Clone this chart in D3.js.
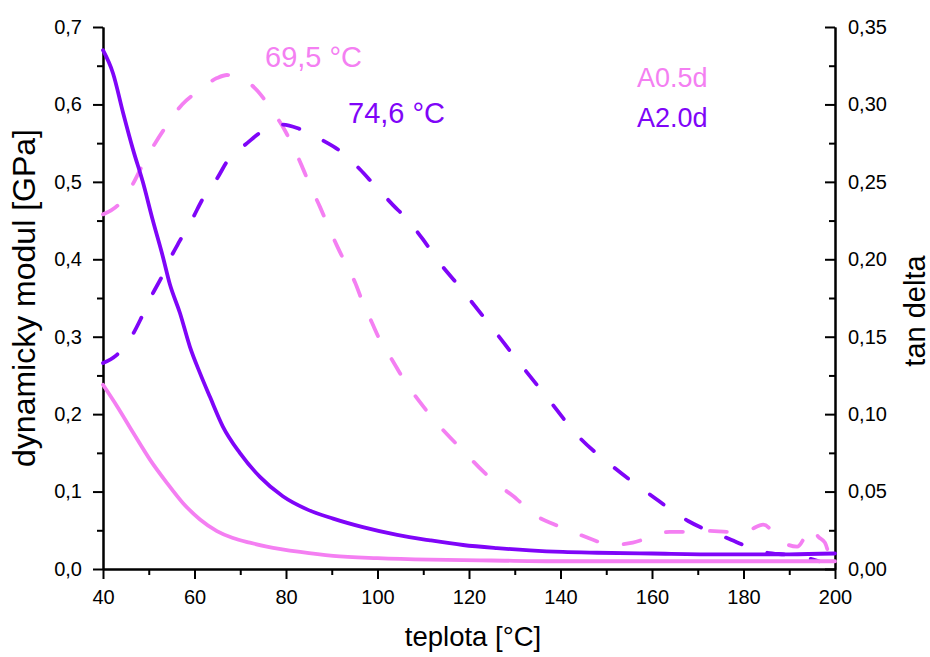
<!DOCTYPE html>
<html>
<head>
<meta charset="utf-8">
<script src="https://cdn.jsdelivr.net/npm/d3@7"></script>
<style>
  html, body { margin: 0; padding: 0; background: #fff; }
  svg { display: block; font-family: "Liberation Sans", Arial, sans-serif; }
  .axis path, .axis line { stroke: #000; stroke-width: 2; }
  .axis text { font-size: 20px; fill: #000; font-family: "Liberation Sans", Arial, sans-serif; }
</style>
</head>
<body>
<svg id="chart" width="930" height="657"></svg>
<script>
// Temperature ticks and axis tick values
const xTicks = [40, 60, 80, 100, 120, 140, 160, 180, 200];
const xMinorTicks = [50, 70, 90, 110, 130, 150, 170, 190];
const modTicks = [0, 0.1, 0.2, 0.3, 0.4, 0.5, 0.6, 0.7];
const modMinorTicks = [0.05, 0.15, 0.25, 0.35, 0.45, 0.55, 0.65];
const tanTicks = [0, 0.05, 0.10, 0.15, 0.20, 0.25, 0.30, 0.35];
const tanMinorTicks = [0.025, 0.075, 0.125, 0.175, 0.225, 0.275, 0.325];

const seriesNames = ["A0.5d", "A2.0d"];
const peakLabels = ["69,5 °C", "74,6 °C"];

// Dynamic modulus [GPa], sample A2.0d
const modA20_t = [40, 42.2, 44.4, 46.6, 48.7, 50.9, 53.1, 54.6, 56.8, 59.0, 61.2, 63.4, 66.2, 69.9, 74.3, 79.3, 84.6, 90.3, 96.8, 104.3, 111.5, 118.7, 126.1, 133.3, 140.5, 148, 160, 175, 190, 200];
const modA20_v = [0.67, 0.640, 0.589, 0.541, 0.500, 0.450, 0.403, 0.368, 0.331, 0.287, 0.253, 0.222, 0.184, 0.150, 0.119, 0.094, 0.077, 0.065, 0.054, 0.044, 0.037, 0.031, 0.027, 0.024, 0.022, 0.021, 0.020, 0.019, 0.019, 0.020];

// Dynamic modulus [GPa], sample A0.5d
const modA05_t = [40, 43.1, 46.6, 50.3, 54.0, 57.5, 61.2, 64.9, 68.4, 72.1, 75.8, 83.1, 90.3, 100, 111.5, 125, 140, 160, 180, 200];
const modA05_v = [0.238, 0.210, 0.176, 0.141, 0.111, 0.085, 0.064, 0.049, 0.040, 0.034, 0.029, 0.022, 0.017, 0.014, 0.012, 0.011, 0.010, 0.010, 0.010, 0.010];

// tan delta, sample A2.0d
const tanA20_t = [40, 42.9, 46.6, 48.5, 50.9, 52.9, 54.6, 56.8, 59.7, 61.6, 64.9, 67.3, 71.5, 75.0, 79.3, 83.1, 87.9, 91.8, 96.2, 99.0, 103.4, 106.4, 109.9, 113, 118.0, 124.2, 130.5, 137.0, 143.8, 151.5, 159.6, 167.9, 176.4, 184.3, 190, 194, 196.5];
const tanA20_v = [0.133, 0.138, 0.152, 0.163, 0.178, 0.189, 0.200, 0.212, 0.227, 0.238, 0.252, 0.264, 0.275, 0.283, 0.287, 0.284, 0.277, 0.270, 0.258, 0.249, 0.235, 0.226, 0.213, 0.200, 0.182, 0.159, 0.135, 0.111, 0.086, 0.066, 0.048, 0.031, 0.020, 0.011, 0.009, 0.007, 0.005];

// tan delta, sample A0.5d
const tanA05_t = [40, 43.3, 46.6, 48.5, 51.4, 53.6, 57.3, 60.5, 64.9, 67.1, 69.3, 73.7, 76.5, 79.8, 81.5, 83.5, 85.2, 87.4, 89.0, 91.1, 92.9, 95.1, 96.8, 98.8, 100.5, 103.4, 105.4, 110, 115.2, 118.5, 123.1, 125.7, 130.5, 133.8, 138.8, 142.5, 147.1, 150.8, 155.8, 159.1, 163.9, 167.7, 172.7, 176.4, 181.0, 184.3, 188.4, 191.7, 195.0, 196.3, 197.8, 198.9];
const tanA05_v = [0.229, 0.235, 0.249, 0.260, 0.275, 0.285, 0.300, 0.308, 0.317, 0.319, 0.318, 0.309, 0.298, 0.283, 0.273, 0.260, 0.248, 0.234, 0.223, 0.209, 0.198, 0.185, 0.172, 0.159, 0.148, 0.134, 0.124, 0.105, 0.087, 0.077, 0.063, 0.056, 0.045, 0.036, 0.0286, 0.0242, 0.0189, 0.0155, 0.017, 0.020, 0.024, 0.024, 0.0246, 0.024, 0.025, 0.0286, 0.0176, 0.0144, 0.027, 0.021, 0.017, 0.006];

const pink = "#f47ff2";
const violet = "#7f05f8";

const svg = d3.select("#chart");
svg.append("rect").attr("width", 930).attr("height", 657).attr("fill", "#fff");

const x = d3.scaleLinear().domain([40, 200]).range([103, 835]);
const yMod = d3.scaleLinear().domain([0, 0.7]).range([569, 27]);
const yTan = d3.scaleLinear().domain([0, 0.35]).range([569, 27]);

const comma = (digits) => (d) => d.toFixed(digits).replace(".", ",");

// Bottom axis
svg.append("g").attr("class", "axis").attr("transform", "translate(0,569)")
  .call(d3.axisBottom(x).tickValues(xMinorTicks).tickSize(6).tickSizeOuter(0).tickFormat(""));
svg.append("g").attr("class", "axis").attr("transform", "translate(0,569)")
  .call(d3.axisBottom(x).tickValues(xTicks).tickSize(10).tickSizeOuter(0).tickPadding(11).tickFormat(d3.format("d")));

// Left axis (modulus)
svg.append("g").attr("class", "axis").attr("transform", "translate(103,0)")
  .call(d3.axisLeft(yMod).tickValues(modMinorTicks).tickSize(6).tickSizeOuter(0).tickFormat(""));
svg.append("g").attr("class", "axis").attr("transform", "translate(103,0)")
  .call(d3.axisLeft(yMod).tickValues(modTicks).tickSize(10).tickSizeOuter(0).tickPadding(11).tickFormat(comma(1)));

// Right axis (tan delta), ticks pointing inward
svg.append("g").attr("class", "axis").attr("transform", "translate(835,0)")
  .call(d3.axisRight(yTan).tickValues(tanMinorTicks).tickSize(-6).tickSizeOuter(0).tickFormat(""));
svg.append("g").attr("class", "axis").attr("transform", "translate(835,0)")
  .call(d3.axisRight(yTan).tickValues(tanTicks).tickSize(-10).tickSizeOuter(0).tickPadding(13).tickFormat(comma(2)));

// Curves
const zip = (ts, vs) => ts.map((t, i) => [t, vs[i]]);
const lineMod = d3.line().x(d => x(d[0])).y(d => yMod(d[1])).curve(d3.curveMonotoneX);
const lineTan = d3.line().x(d => x(d[0])).y(d => yTan(d[1])).curve(d3.curveMonotoneX);

const curves = [
  { data: zip(tanA05_t, tanA05_v), gen: lineTan, color: pink, dashed: true },
  { data: zip(tanA20_t, tanA20_v), gen: lineTan, color: violet, dashed: true },
  { data: zip(modA05_t, modA05_v), gen: lineMod, color: pink, dashed: false },
  { data: zip(modA20_t, modA20_v), gen: lineMod, color: violet, dashed: false }
];

svg.append("g").selectAll("path").data(curves).join("path")
  .attr("d", c => c.gen(c.data))
  .attr("fill", "none")
  .attr("stroke", c => c.color)
  .attr("stroke-width", 3.8)
  .attr("stroke-linecap", "round")
  .attr("stroke-linejoin", "round")
  .attr("stroke-dasharray", c => c.dashed ? "17,27" : null);

// Peak temperature annotations
svg.append("text").attr("x", 265).attr("y", 67).attr("fill", pink)
  .attr("font-size", 29).text(peakLabels[0]);
svg.append("text").attr("x", 348).attr("y", 123).attr("fill", violet)
  .attr("font-size", 29).text(peakLabels[1]);

// Series legend
svg.append("text").attr("x", 637).attr("y", 87).attr("fill", pink)
  .attr("font-size", 27).text(seriesNames[0]);
svg.append("text").attr("x", 637).attr("y", 127).attr("fill", violet)
  .attr("font-size", 27).text(seriesNames[1]);

// Axis titles
svg.append("text").attr("x", 473).attr("y", 646).attr("text-anchor", "middle")
  .attr("font-size", 27.5).attr("fill", "#000").text("teplota [°C]");
svg.append("text").attr("transform", "translate(35,298) rotate(-90)").attr("text-anchor", "middle")
  .attr("font-size", 32).attr("fill", "#000").text("dynamicky modul [GPa]");
svg.append("text").attr("transform", "translate(925,311) rotate(-90)").attr("text-anchor", "middle")
  .attr("font-size", 29).attr("fill", "#000").text("tan delta");
</script>
</body>
</html>
